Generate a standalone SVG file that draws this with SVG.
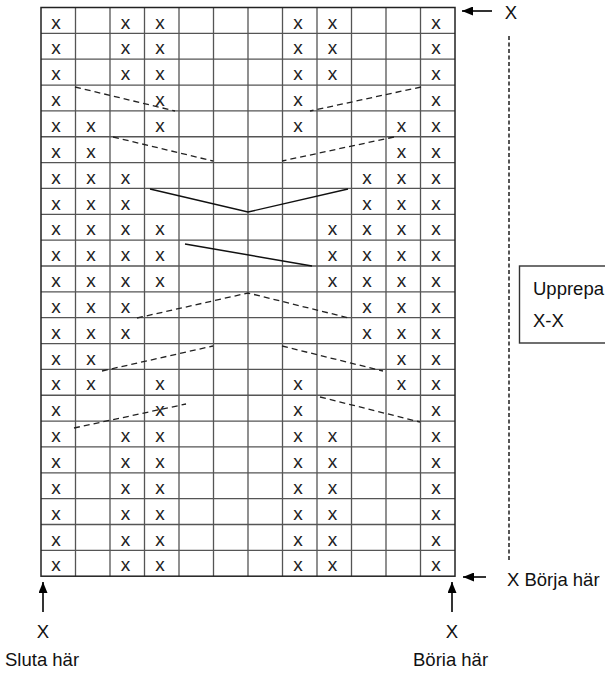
<svg xmlns="http://www.w3.org/2000/svg" width="605" height="675" viewBox="0 0 605 675">
<defs>
<marker id="ah" markerUnits="userSpaceOnUse" markerWidth="11" markerHeight="9" refX="11" refY="4.5" orient="auto">
<path d="M0,0 L11,4.5 L0,9 z" fill="#000"/>
</marker>
<style>
.g{stroke:#555;stroke-width:1.3;fill:none}
.b{stroke:#222;stroke-width:1.5;fill:none}
.x{font-family:"Liberation Sans",Arial,sans-serif;font-size:19px;fill:#222;text-anchor:middle}
.t{font-family:"Liberation Sans",Arial,sans-serif;font-size:18.5px;fill:#111}
.d{stroke:#222;stroke-width:1.3;stroke-dasharray:6 4;fill:none}
.s{stroke:#111;stroke-width:1.4;fill:none}
.a{stroke:#000;stroke-width:1.6;fill:none}
</style>
</defs>
<rect width="605" height="675" fill="#fff"/>
<g id="chart">
<g id="gridlines">
<path class="g" d="M75.5,7.5V576.2M110,7.5V576.2M144.5,7.5V576.2M179,7.5V576.2M213.5,7.5V576.2M248,7.5V576.2M282.5,7.5V576.2M317,7.5V576.2M351.5,7.5V576.2M386,7.5V576.2M420.5,7.5V576.2"/>
<path class="g" d="M41,33.35H455M41,59.2H455M41,85.05H455M41,110.9H455M41,136.75H455M41,162.6H455M41,188.45H455M41,214.3H455M41,240.15H455M41,266H455M41,291.85H455M41,317.7H455M41,343.55H455M41,369.4H455M41,395.25H455M41,421.1H455M41,446.95H455M41,472.8H455M41,498.65H455M41,524.5H455M41,550.35H455"/>
<rect class="b" x="41" y="7.5" width="414" height="568.7"/>
</g>
<g id="stitches" class="x">
<text x="56" y="28.5">x</text><text x="125.5" y="28.5">x</text><text x="160" y="28.5">x</text><text x="298" y="28.5">x</text><text x="332.5" y="28.5">x</text><text x="436" y="28.5">x</text>
<text x="56" y="54.4">x</text><text x="125.5" y="54.4">x</text><text x="160" y="54.4">x</text><text x="298" y="54.4">x</text><text x="332.5" y="54.4">x</text><text x="436" y="54.4">x</text>
<text x="56" y="80.2">x</text><text x="125.5" y="80.2">x</text><text x="160" y="80.2">x</text><text x="298" y="80.2">x</text><text x="332.5" y="80.2">x</text><text x="436" y="80.2">x</text>
<text x="56" y="106.1">x</text><text x="160" y="106.1">x</text><text x="298" y="106.1">x</text><text x="436" y="106.1">x</text>
<text x="56" y="131.9">x</text><text x="91" y="131.9">x</text><text x="160" y="131.9">x</text><text x="298" y="131.9">x</text><text x="401.5" y="131.9">x</text><text x="436" y="131.9">x</text>
<text x="56" y="157.8">x</text><text x="91" y="157.8">x</text><text x="401.5" y="157.8">x</text><text x="436" y="157.8">x</text>
<text x="56" y="183.6">x</text><text x="91" y="183.6">x</text><text x="125.5" y="183.6">x</text><text x="367" y="183.6">x</text><text x="401.5" y="183.6">x</text><text x="436" y="183.6">x</text>
<text x="56" y="209.5">x</text><text x="91" y="209.5">x</text><text x="125.5" y="209.5">x</text><text x="367" y="209.5">x</text><text x="401.5" y="209.5">x</text><text x="436" y="209.5">x</text>
<text x="56" y="235.3">x</text><text x="91" y="235.3">x</text><text x="125.5" y="235.3">x</text><text x="160" y="235.3">x</text><text x="332.5" y="235.3">x</text><text x="367" y="235.3">x</text><text x="401.5" y="235.3">x</text><text x="436" y="235.3">x</text>
<text x="56" y="261.2">x</text><text x="91" y="261.2">x</text><text x="125.5" y="261.2">x</text><text x="160" y="261.2">x</text><text x="332.5" y="261.2">x</text><text x="367" y="261.2">x</text><text x="401.5" y="261.2">x</text><text x="436" y="261.2">x</text>
<text x="56" y="287">x</text><text x="91" y="287">x</text><text x="125.5" y="287">x</text><text x="160" y="287">x</text><text x="332.5" y="287">x</text><text x="367" y="287">x</text><text x="401.5" y="287">x</text><text x="436" y="287">x</text>
<text x="56" y="312.9">x</text><text x="91" y="312.9">x</text><text x="125.5" y="312.9">x</text><text x="367" y="312.9">x</text><text x="401.5" y="312.9">x</text><text x="436" y="312.9">x</text>
<text x="56" y="338.7">x</text><text x="91" y="338.7">x</text><text x="125.5" y="338.7">x</text><text x="367" y="338.7">x</text><text x="401.5" y="338.7">x</text><text x="436" y="338.7">x</text>
<text x="56" y="364.6">x</text><text x="91" y="364.6">x</text><text x="401.5" y="364.6">x</text><text x="436" y="364.6">x</text>
<text x="56" y="390.4">x</text><text x="91" y="390.4">x</text><text x="160" y="390.4">x</text><text x="298" y="390.4">x</text><text x="401.5" y="390.4">x</text><text x="436" y="390.4">x</text>
<text x="56" y="416.3">x</text><text x="160" y="416.3">x</text><text x="298" y="416.3">x</text><text x="436" y="416.3">x</text>
<text x="56" y="442.1">x</text><text x="125.5" y="442.1">x</text><text x="160" y="442.1">x</text><text x="298" y="442.1">x</text><text x="332.5" y="442.1">x</text><text x="436" y="442.1">x</text>
<text x="56" y="468">x</text><text x="125.5" y="468">x</text><text x="160" y="468">x</text><text x="298" y="468">x</text><text x="332.5" y="468">x</text><text x="436" y="468">x</text>
<text x="56" y="493.8">x</text><text x="125.5" y="493.8">x</text><text x="160" y="493.8">x</text><text x="298" y="493.8">x</text><text x="332.5" y="493.8">x</text><text x="436" y="493.8">x</text>
<text x="56" y="519.7">x</text><text x="125.5" y="519.7">x</text><text x="160" y="519.7">x</text><text x="298" y="519.7">x</text><text x="332.5" y="519.7">x</text><text x="436" y="519.7">x</text>
<text x="56" y="545.5">x</text><text x="125.5" y="545.5">x</text><text x="160" y="545.5">x</text><text x="298" y="545.5">x</text><text x="332.5" y="545.5">x</text><text x="436" y="545.5">x</text>
<text x="56" y="571.4">x</text><text x="125.5" y="571.4">x</text><text x="160" y="571.4">x</text><text x="298" y="571.4">x</text><text x="332.5" y="571.4">x</text><text x="436" y="571.4">x</text>
</g>
<g id="cables">
<path class="d" d="M75,87L175,111M421,87L310,111M113,137L213,161M394,137L282,161"/>
<path class="s" d="M150,189L248,212L348,189M185,244L312,266"/>
<path class="d" d="M137,318L248,293L349,318M102,371L213,346M282,346L383,371M74,428L186,404M320,397L420,422"/>
</g>
</g>
<g id="label-top-x"><text class="t" x="511" y="19" text-anchor="middle">X</text></g>
<g id="label-repeat">
<rect x="519.5" y="266" width="110" height="77" fill="none" stroke="#333" stroke-width="1.4"/>
<text class="t" x="533" y="295">Upprepa</text>
<text class="t" x="533" y="327">X-X</text>
</g>
<g id="label-start-right"><text class="t" x="507" y="586">X Börja här</text></g>
<g id="label-end">
<text class="t" x="43" y="638" text-anchor="middle">X</text>
<text class="t" x="5" y="666">Sluta här</text>
</g>
<g id="label-start-bottom">
<text class="t" x="452" y="638" text-anchor="middle">X</text>
<text class="t" x="413" y="666">Böria här</text>
</g>
<g id="connectors">
<line class="a" x1="492" y1="11" x2="462" y2="11" marker-end="url(#ah)"/>
<line class="a" x1="486" y1="577" x2="463" y2="577" marker-end="url(#ah)"/>
<line class="a" x1="43" y1="612" x2="43" y2="582" marker-end="url(#ah)"/>
<line class="a" x1="452" y1="612" x2="452" y2="582" marker-end="url(#ah)"/>
<line x1="509" y1="36" x2="509" y2="562" stroke="#555" stroke-width="2" stroke-dasharray="4 2.5"/>
</g>
</svg>
